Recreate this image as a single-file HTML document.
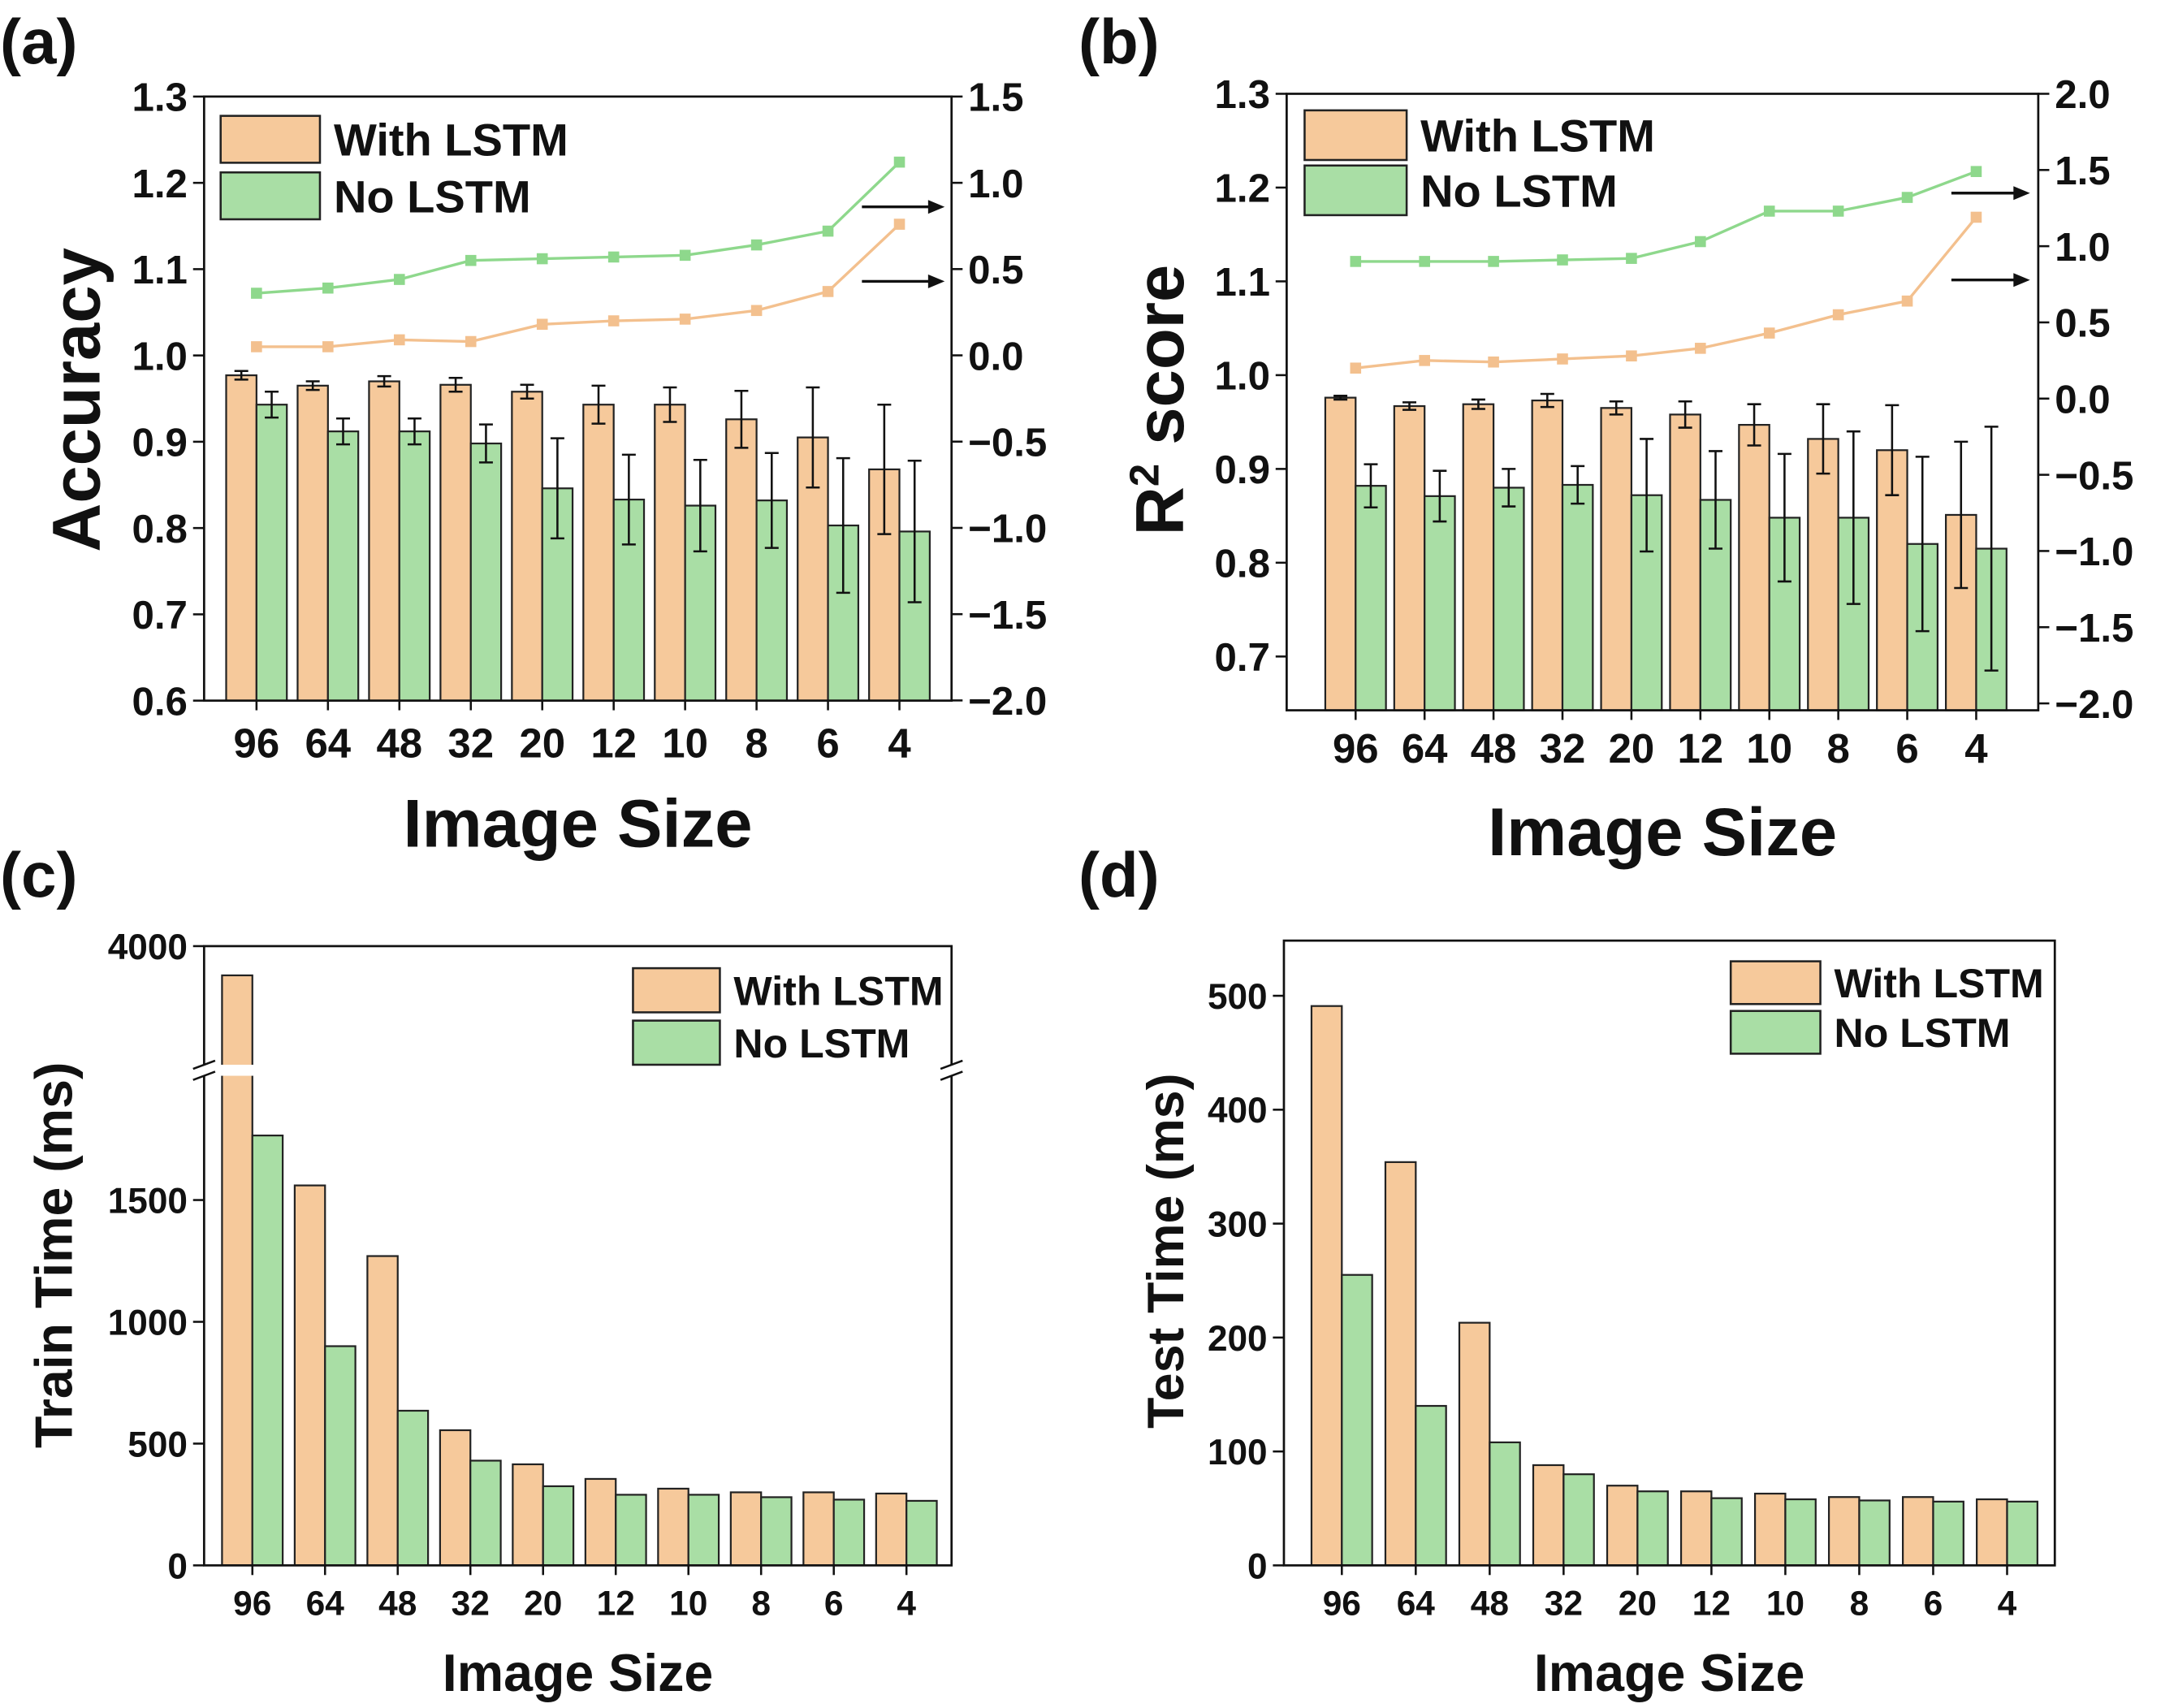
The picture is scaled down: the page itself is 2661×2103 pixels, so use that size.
<!DOCTYPE html>
<html><head><meta charset="utf-8"><style>
html,body{margin:0;padding:0;background:#fff;}
svg{display:block;}
text{font-family:"Liberation Sans",Arial,sans-serif;font-weight:bold;fill:#111;}
</style></head><body>
<svg id="fig" width="2661" height="2103" viewBox="0 0 1567 1238.4" xmlns="http://www.w3.org/2000/svg">
<rect width="1567" height="1238.4" fill="#fff"/>
<text x="0" y="46" font-size="46">(a)</text>
<text x="782" y="46" font-size="46">(b)</text>
<text x="0" y="650" font-size="46">(c)</text>
<text x="782" y="650" font-size="46">(d)</text>
</svg>
<script>
const categories = ["96","64","48","32","20","12","10","8","6","4"];
// (a)
const accWith = [0.977,0.965,0.970,0.966,0.958,0.943,0.943,0.926,0.905,0.868];
const accWithErr = [0.005,0.005,0.006,0.008,0.008,0.022,0.020,0.033,0.058,0.075];
const accNo = [0.943,0.912,0.912,0.898,0.846,0.833,0.826,0.832,0.803,0.796];
const accNoErr = [0.015,0.015,0.015,0.022,0.058,0.052,0.053,0.055,0.078,0.082];
const accLineNo = [0.36,0.39,0.44,0.55,0.56,0.57,0.58,0.64,0.72,1.12];
const accLineWith = [0.05,0.05,0.09,0.08,0.18,0.20,0.21,0.26,0.37,0.76];
const accLeftTicks = [0.6,0.7,0.8,0.9,1.0,1.1,1.2,1.3];
const accRightTicks = [-2.0,-1.5,-1.0,-0.5,0.0,0.5,1.0,1.5];
// (b)
const r2With = [0.976,0.967,0.969,0.973,0.965,0.958,0.947,0.932,0.920,0.851];
const r2WithErr = [0.002,0.004,0.005,0.007,0.007,0.014,0.022,0.037,0.048,0.078];
const r2No = [0.882,0.871,0.880,0.883,0.872,0.867,0.848,0.848,0.820,0.815];
const r2NoErr = [0.023,0.027,0.020,0.020,0.060,0.052,0.068,0.092,0.093,0.130];
const r2LineNo = [0.90,0.90,0.90,0.91,0.92,1.03,1.23,1.23,1.32,1.49];
const r2LineWith = [0.20,0.25,0.24,0.26,0.28,0.33,0.43,0.55,0.64,1.19];
const r2LeftTicks = [0.7,0.8,0.9,1.0,1.1,1.2,1.3];
const r2RightTicks = [-2.0,-1.5,-1.0,-0.5,0.0,0.5,1.0,1.5,2.0];
// (c)
const trainWith = [3880,1560,1270,555,415,355,315,300,300,295];
const trainNo = [1765,900,635,430,325,290,290,280,270,265];
const trainTicks = [0,500,1000,1500];
const trainTopTicks = [4000];
// (d)
const testWith = [491,354,213,88,70,65,63,60,60,58];
const testNo = [255,140,108,80,65,59,58,57,56,56];
const testTicks = [0,100,200,300,400,500];

const NS="http://www.w3.org/2000/svg";
const svg=document.getElementById('fig');
const ORANGE="#f6c99b", GREEN="#a9dea5", LO="#f3c08e", LG="#8ed88c";
function mk(tag,attrs,parent){const e=document.createElementNS(NS,tag);for(const k in attrs)e.setAttribute(k,attrs[k]);(parent||svg).appendChild(e);return e;}
function txt(x,y,s,size,anchor,parent,rot){const t=mk('text',{x:x,y:y,'font-size':size,'text-anchor':anchor||'middle'},parent);if(rot)t.setAttribute('transform',`rotate(-90 ${x} ${y})`);t.textContent=s;return t;}

function legend(g,x,y1,y2,w,h,fs){
  const a=mk('rect',{x:x,y:y1,width:w,height:h,fill:ORANGE,stroke:'#222','stroke-width':1.5},g);
  
  const b=mk('rect',{x:x,y:y2,width:w,height:h,fill:GREEN,stroke:'#222','stroke-width':1.5},g);
  
  const t1=txt(x+w+10,y1+h/2+fs*0.36,'With LSTM',fs,'start',g);
  
  const t2=txt(x+w+10,y2+h/2+fs*0.36,'No LSTM',fs,'start',g);
  
}

function barPanel(o){
  const g=mk('g',{});
  
  const xs=i=>o.x0+i*o.step;
  categories.forEach((c,i)=>{
    const cx=xs(i);
    [[o.w,ORANGE,-1,o.we],[o.n,GREEN,1,o.ne]].forEach(([arr,col,side,err],k)=>{
      const v=arr[i];const yt=o.y(v);const yb=o.ybase;
      const bx=cx+(side<0?-o.bw-o.gap/2:o.gap/2)+o.shift;
      const r=mk('rect',{x:bx,y:yt,width:o.bw,height:yb-yt,fill:col,stroke:'#222','stroke-width':1.3},g);
      
      
      if(err){const ex=bx+o.bw/2,e=err[i];const y1=o.y(v+e),y2=o.y(v-e);
        const p=mk('path',{d:`M${ex},${y1}V${y2}M${ex-5},${y1}H${ex+5}M${ex-5},${y2}H${ex+5}`,stroke:'#111','stroke-width':1.5,fill:'none'},g);
        }
    });
    const lab=txt(cx,o.catY,c,o.catFs,'middle',g);
    
    mk('line',{x1:cx,y1:o.ybot,x2:cx,y2:o.ybot+7,stroke:'#111','stroke-width':1.5},g);
  });
  const f=mk('rect',{x:o.L,y:o.T,width:o.R-o.L,height:o.ybot-o.T,fill:'none',stroke:'#111','stroke-width':1.6},g);
  
  o.lt.forEach(v=>{const y=o.y(v);
    mk('line',{x1:o.L-8,y1:y,x2:o.L,y2:y,stroke:'#111','stroke-width':1.5},g);
    const t=txt(o.L-12,y+o.tfs*0.36,o.fmt(v),o.tfs,'end',g);
    });
  if(o.ylab){const yl=txt(o.ylx,o.yly,o.ylab,o.ylfs,'middle',g,true);
  }
  const xl=txt((o.L+o.R)/2,o.xly,'Image Size',o.xlfs,'middle',g);
  
  return {g,xs};
}

function comboPanel(o){
  const {g,xs}=barPanel(o);
  o.rt.forEach(v=>{const y=o.yr(v);
    mk('line',{x1:o.R,y1:y,x2:o.R+8,y2:y,stroke:'#111','stroke-width':1.5},g);
    const t=txt(o.R+12,y+o.tfs*0.36,v.toFixed(1).replace('-','\u2212'),o.tfs,'start',g);
    });
  [[o.lineNo,LG,'line-no-lstm'],[o.lineWith,LO,'line-with-lstm']].forEach(([arr,col,nm])=>{
    const pts=arr.map((v,i)=>[xs(i),o.yr(v)]);
    const pl=mk('polyline',{points:pts.map(p=>p.join(',')).join(' '),fill:'none',stroke:col,'stroke-width':2},g);
    
    pts.forEach((p,i)=>{const m=mk('rect',{x:p[0]-4,y:p[1]-4,width:8,height:8,fill:col},g);
      });
  });
  o.arrows.forEach(a=>{
    const p=mk('path',{d:`M${a[0]},${a[2]}H${a[1]-8}`,stroke:'#111','stroke-width':2},g);
    
    mk('path',{d:`M${a[1]},${a[2]}l-12,-5v10z`,fill:'#111'},g);
  });
  legend(g,o.lg[0],o.lg[1],o.lg[2],o.lg[3],o.lg[4],o.lg[5]);
}

// (a)
comboPanel({name:'panel-a-accuracy',L:148,R:690,T:70,ybot:508,ybase:508,
  y:v=>508-(v-0.6)*625.7, yr:v=>70+(1.5-v)*125.1,
  x0:186,step:51.8,bw:22,gap:0,shift:0,w:accWith,we:accWithErr,n:accNo,ne:accNoErr,
  lt:accLeftTicks,rt:accRightTicks,fmt:v=>v.toFixed(1),tfs:29,catY:549,catFs:30,
  ylab:'Accuracy',ylx:72,yly:290,ylfs:49,xly:614,xlfs:49,
  lineNo:accLineNo,lineWith:accLineWith,arrows:[[625,685,150],[625,685,204]],
  lg:[160,84,125,72,34,33]});
// (b)
comboPanel({name:'panel-b-r2',L:933,R:1478,T:68,ybot:515,ybase:515,
  y:v=>68+(1.3-v)*680, yr:v=>68+(2.0-v)*110.5,
  x0:983,step:50,bw:22,gap:0,shift:0,w:r2With,we:r2WithErr,n:r2No,ne:r2NoErr,
  lt:r2LeftTicks,rt:r2RightTicks,fmt:v=>v.toFixed(1),tfs:29,catY:553,catFs:30,
  ylab:'',ylx:856,yly:290,ylfs:49,xly:620,xlfs:49,
  lineNo:r2LineNo,lineWith:r2LineWith,arrows:[[1415,1472,140],[1415,1472,203]],
  lg:[946,80,120,74,36,33]});
{const t=mk('text',{x:858,y:290,'font-size':49,'text-anchor':'middle',transform:'rotate(-90 858 290)'});
 
 t.innerHTML='R<tspan dy="-18" font-size="30">2</tspan><tspan dy="18"> score</tspan>';}

// (c) broken axis
(function(){
  const lowY=v=>1135-v*0.1766, highY=v=>686+(4000-v)*0.1766;
  const o={name:'panel-c-train-time',L:148,R:690,T:686,ybot:1135,ybase:1135,
    y:v=>v>2000?highY(v):lowY(v),x0:183,step:52.7,bw:22,gap:0,shift:0,
    w:trainWith,n:trainNo,lt:trainTicks.concat(trainTopTicks),fmt:v=>String(v),tfs:26,
    catY:1171,catFs:25,ylab:'Train Time (ms)',ylx:52,yly:910,ylfs:38,xly:1226,xlfs:38};
  const {g}=barPanel(o);
  [o.L,o.R].forEach(x=>{
    mk('rect',{x:x-8,y:772,width:16,height:8,fill:'#fff'},g);
    mk('path',{d:`M${x-8},${775}l16,-6M${x-8},${783}l16,-6`,stroke:'#111','stroke-width':1.5},g);
  });
  const br=mk('rect',{x:o.L+10,y:772,width:60,height:8,fill:'#fff'},g);
  
  legend(g,459,702,740,63,32,29.5);
})();

// (d)
(function(){
  const o={name:'panel-d-test-time',L:931,R:1490,T:682,ybot:1135,ybase:1135,
    y:v=>1135-v*0.826,x0:973,step:53.6,bw:22,gap:0,shift:0,
    w:testWith,n:testNo,lt:testTicks,fmt:v=>String(v),tfs:26,
    catY:1171,catFs:25,ylab:'Test Time (ms)',ylx:858,yly:907,ylfs:37,xly:1226,xlfs:38};
  const {g}=barPanel(o);
  legend(g,1255,697,733,65,31,29.5);
})();
</script>
</body></html>
